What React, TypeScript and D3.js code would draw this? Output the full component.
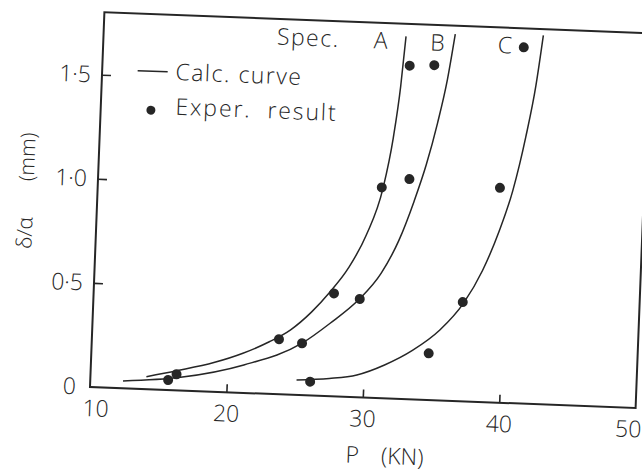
import React, { useEffect, useRef } from 'react';
import * as d3 from 'd3';

// calculated curves (P in kN, delta/alpha in mm)
const curveAP = [14.1, 16.3, 19, 21.1, 23, 24.5, 26, 27.3, 28.6, 29.8, 30.9, 31.5, 31.9, 32.15];
const curveAD = [0.06, 0.094, 0.14, 0.19, 0.25, 0.31, 0.4, 0.5, 0.62, 0.78, 1.01, 1.25, 1.5, 1.74];
const curveBP = [12.4, 16.6, 21.2, 25.4, 27.4, 29.45, 31.0, 32.2, 33.2, 34.0, 34.7, 35.3, 35.75];
const curveBD = [0.035, 0.063, 0.134, 0.249, 0.35, 0.47, 0.6, 0.76, 0.95, 1.13, 1.33, 1.54, 1.76];
const curveCP = [25.1, 27.5, 29.5, 31.5, 33.5, 35.45, 37.1, 38.4, 39.5, 40.4, 41.2, 41.8, 42.2];
const curveCD = [0.072, 0.085, 0.107, 0.16, 0.235, 0.338, 0.47, 0.63, 0.82, 1.02, 1.28, 1.53, 1.77];

// experimental results
const expAP = [16.3, 23.7, 27.6, 30.8, 32.5];
const expAD = [0.077, 0.264, 0.494, 1.011, 1.6];
const expBP = [15.7, 25.4, 29.5, 32.8, 34.3];
const expBD = [0.048, 0.249, 0.472, 1.056, 1.607];
const expCP = [26.1, 34.7, 37.05, 39.45, 40.8];
const expCD = [0.066, 0.224, 0.476, 1.031, 1.709];

const specNames = ['A', 'B', 'C'];
const xTicks = [10, 20, 30, 40, 50];
const yTicks = [0, 0.5, 1.0, 1.5];

const W = 642;
const H = 473;
const FONT = "'Open Sans', 'Liberation Sans', sans-serif";
const INK = '#262626';

const zip = (a: number[], b: number[]) => a.map((v, i) => [v, b[i]] as [number, number]);

export default function App() {
  const svgRef = useRef<SVGSVGElement>(null);

  useEffect(() => {
    const svg = d3.select(svgRef.current);
    svg.selectAll('*').remove();

    const x = d3.scaleLinear().domain([10, 50]).range([0, 546]);
    const y = d3.scaleLinear().domain([0, 1.8]).range([0, -375]);

    // the scan is tilted a little, so the whole plot is turned with it
    const g = svg.append('g')
      .attr('transform', 'translate(90,387) rotate(2.2)')
      .attr('font-family', FONT)
      .attr('font-weight', 300)
      .attr('fill', INK);

    // frame
    g.append('path')
      .attr('d', `M${x(10)},${y(0)}V${y(1.8)}H${x(50)}V${y(0)}Z`)
      .attr('fill', 'none')
      .attr('stroke', INK)
      .attr('stroke-width', 2);

    // x axis
    const xa = g.append('g')
      .call(d3.axisBottom(x).tickValues(xTicks).tickSizeInner(-8).tickSizeOuter(0).tickPadding(13).tickFormat(d3.format('d')))
      .attr('font-family', FONT)
      .attr('font-size', 23)
      .style('color', INK);
    xa.select('.domain').remove();
    xa.selectAll('.tick line').attr('stroke-width', 1.6).filter((d: any) => d === 10 || d === 50).remove();
    xa.selectAll('.tick text').attr('dx', (d: any) => (d === 10 ? 6 : d === 50 ? -7 : 0));

    // y axis
    const yFmt = (d: any) => (d === 0 ? '0' : d3.format('.1f')(d).replace('.', '·'));
    const ya = g.append('g')
      .call(d3.axisLeft(y).tickValues(yTicks).tickSizeInner(-9).tickSizeOuter(0).tickPadding(11).tickFormat(yFmt))
      .attr('font-family', FONT)
      .attr('font-size', 23)
      .style('color', INK);
    ya.select('.domain').remove();
    ya.selectAll('.tick line').attr('stroke-width', 1.6).filter((d: any) => d === 0).remove();
    ya.selectAll('.tick text').attr('dx', (d: any) => (d === 0 ? -3 : 0));

    // axis titles
    const yt = g.append('text')
      .attr('transform', `translate(-64,${y(0.93)}) rotate(-90)`)
      .attr('text-anchor', 'middle')
      .attr('font-size', 21);
    yt.append('tspan').text('δ/α');
    yt.append('tspan').attr('dx', 36).text('(mm)');

    const xt = g.append('text')
      .attr('x', x(28.9))
      .attr('y', y(-0.315))
      .attr('font-size', 23);
    xt.append('tspan').text('P');
    xt.append('tspan').attr('dx', 22).text('(KN)');

    // curves
    const line = d3.line<[number, number]>()
      .x(d => x(d[0]))
      .y(d => y(d[1]))
      .curve(d3.curveMonotoneX);

    const curves = [zip(curveAP, curveAD), zip(curveBP, curveBD), zip(curveCP, curveCD)];
    g.selectAll('path.calc')
      .data(curves)
      .join('path')
      .attr('class', 'calc')
      .attr('d', d => line(d))
      .attr('fill', 'none')
      .attr('stroke', INK)
      .attr('stroke-width', 1.5);

    const pts = [...zip(expAP, expAD), ...zip(expBP, expBD), ...zip(expCP, expCD)];
    g.selectAll('circle.exp')
      .data(pts)
      .join('circle')
      .attr('class', 'exp')
      .attr('cx', d => x(d[0]))
      .attr('cy', d => y(d[1]))
      .attr('r', 5)
      .attr('fill', INK);

    // spec labels above the curve ends
    const labY = y(1.677);
    g.append('text').attr('x', x(22.7)).attr('y', labY).attr('font-size', 23)
      .attr('letter-spacing', 1.5).text('Spec.');
    const specX = [29.8, 33.95, 38.9];
    specNames.forEach((s, i) => {
      g.append('text').attr('x', x(specX[i])).attr('y', labY).attr('font-size', 23).text(s);
    });

    // legend
    g.append('line')
      .attr('x1', x(12.6)).attr('x2', x(14.8))
      .attr('y1', y(1.526)).attr('y2', y(1.526))
      .attr('stroke', INK).attr('stroke-width', 1.5);
    g.append('text').attr('x', x(15.37)).attr('y', y(1.488)).attr('font-size', 23)
      .attr('letter-spacing', 1.5).text('Calc. curve');
    g.append('circle').attr('cx', x(13.68)).attr('cy', y(1.339)).attr('r', 4.5).attr('fill', INK);
    g.append('text').attr('x', x(15.47)).attr('y', y(1.322)).attr('font-size', 23)
      .attr('letter-spacing', 1.9).style('white-space', 'pre').text('Exper.  result');
  }, []);

  return (
    <svg
      ref={svgRef}
      width={W}
      height={H}
      style={{ position: 'absolute', left: 0, top: 0, background: '#fff' }}
    />
  );
}
